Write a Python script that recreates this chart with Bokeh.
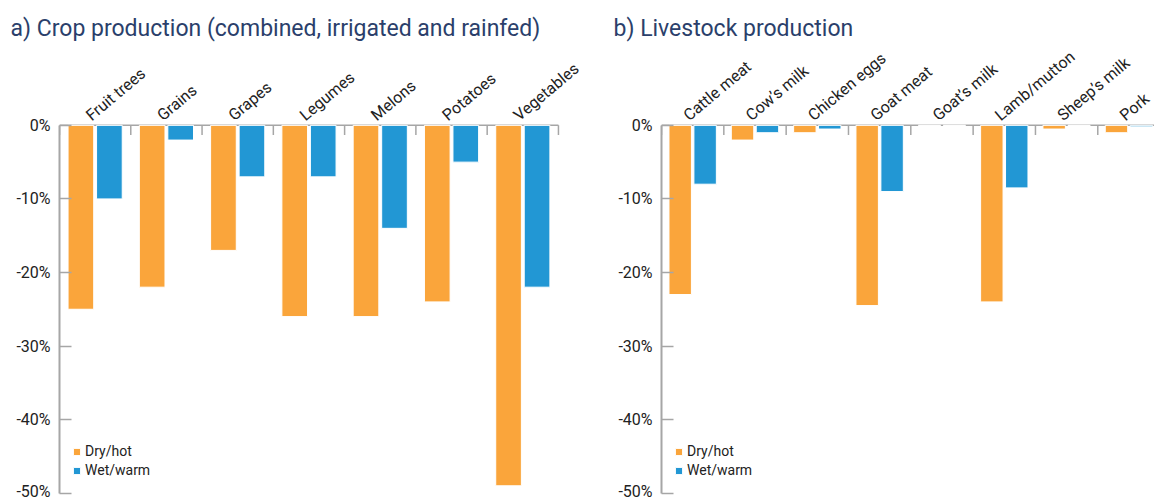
import math
from bokeh.plotting import figure
from bokeh.layouts import row
from bokeh.models import Legend, LegendItem, FixedTicker, Title
from bokeh.core.properties import value
from bokeh.embed import file_html
from bokeh.resources import INLINE

# ---- data ----
crop_categories = ["Fruit trees", "Grains", "Grapes", "Legumes", "Melons", "Potatoes", "Vegetables"]
crop_dry_hot = [-25, -22, -17, -26, -26, -24, -49]
crop_wet_warm = [-10, -2, -7, -7, -14, -5, -22]

live_categories = ["Cattle meat", "Cow\u2019s milk", "Chicken eggs", "Goat meat",
                   "Goat\u2019s milk", "Lamb/mutton", "Sheep\u2019s milk", "Pork"]
live_dry_hot = [-23, -2, -1, -24.5, 0, -24, -0.5, -1]
live_wet_warm = [-8, -1, -0.5, -9, 0, -8.5, 0, -0.2]

y_ticks = [0, -10, -20, -30, -40, -50]
y_tick_labels = ["0%", "-10%", "-20%", "-30%", "-40%", "-50%"]
series_names = ["Dry/hot", "Wet/warm"]

ORANGE = "#FAA53B"
BLUE = "#2297D4"
AXIS_GREY = "#A6A6A6"
TITLE_COLOR = "#2B3F6B"
FONT = "Roboto"


def panel(title, cats, dry, wet, width, border_left, x_end, title_offset):
    n = len(cats)
    p = figure(width=width, height=500, x_range=(0, x_end), y_range=(-51.0, 11.4),
               output_backend="svg", toolbar_location=None, x_axis_location=None,
               min_border_left=border_left, min_border_right=0,
               min_border_top=41, min_border_bottom=0)
    p.title = Title(text=title, align="left", offset=title_offset, text_font=FONT,
                    text_font_size="23px", text_font_style="normal",
                    text_color=TITLE_COLOR, standoff=0)
    p.outline_line_color = None
    p.xgrid.visible = False
    p.ygrid.visible = False
    p.background_fill_color = "white"
    p.border_fill_color = "white"

    # zero line (category axis line) and ticks at category boundaries
    bounds = list(range(n + 1))
    p.segment(x0=[0], y0=[0], x1=[n], y1=[0], line_color=AXIS_GREY,
              line_width=1.5, level="underlay")
    p.segment(x0=bounds, y0=[0] * len(bounds), x1=bounds, y1=[-1.3] * len(bounds),
              line_color=AXIS_GREY, line_width=1.5, level="underlay")

    xs = [i + 0.5 for i in range(n)]
    r1 = p.vbar(x=[x - 0.2 for x in xs], top=dry, bottom=0, width=0.36,
                fill_color=ORANGE, line_color="white", line_width=1)
    r2 = p.vbar(x=[x + 0.2 for x in xs], top=wet, bottom=0, width=0.36,
                fill_color=BLUE, line_color="white", line_width=1)

    # rotated category labels
    p.text(x=xs, y=[0] * n, text=cats, angle=math.radians(40),
           x_offset=-7, y_offset=-8, text_align="left", text_baseline="alphabetic",
           text_font=value(FONT), text_font_size="16px", text_color="#222222")

    # y axis
    ax = p.yaxis[0]
    ax.ticker = FixedTicker(ticks=y_ticks)
    ax.major_label_overrides = {t: l for t, l in zip(y_ticks, y_tick_labels)}
    ax.bounds = (min(y_ticks), max(y_ticks))
    ax.axis_line_color = AXIS_GREY
    ax.axis_line_width = 2
    ax.major_tick_line_color = AXIS_GREY
    ax.major_tick_line_width = 1.5
    ax.major_tick_in = 12
    ax.major_tick_out = 0
    ax.minor_tick_line_color = None
    ax.major_label_standoff = 9
    ax.major_label_text_font = FONT
    ax.major_label_text_font_size = "16px"
    ax.major_label_text_color = "#222222"

    legend = Legend(items=[LegendItem(label=series_names[0], renderers=[r1]),
                           LegendItem(label=series_names[1], renderers=[r2])],
                    location=(13, 22), glyph_width=9, glyph_height=9, spacing=3,
                    padding=0, margin=0, border_line_color=None,
                    background_fill_alpha=0, label_text_font=FONT,
                    label_text_font_size="14px", label_text_color="#222222",
                    label_standoff=4, label_height=15)
    p.add_layout(legend)
    return p


p1 = panel("a) Crop production (combined, irrigated and rainfed)", crop_categories,
           crop_dry_hot, crop_wet_warm, 600, 59, 7.59, -49)
p2 = panel("b) Livestock production", live_categories, live_dry_hot, live_wet_warm,
           554, 61, 7.91, -48)

layout = row(p1, p2, spacing=0)
open("out.html", "w").write(file_html(layout, INLINE))
